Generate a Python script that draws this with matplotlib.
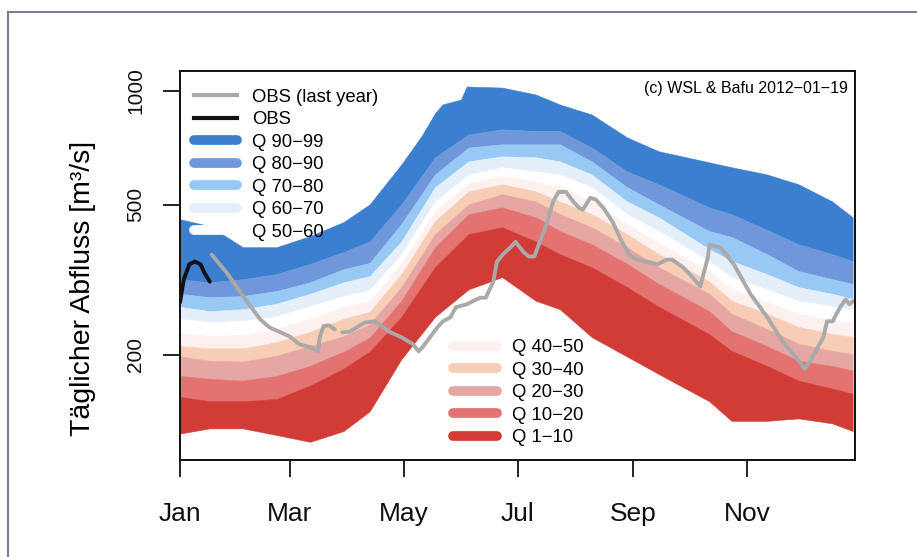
import numpy as np
import matplotlib.pyplot as plt
from matplotlib.lines import Line2D
from matplotlib.ticker import NullLocator

plt.rcParams['font.family'] = ['Liberation Sans', 'DejaVu Sans']

# day of year for the quantile curves
days = [1, 17, 35, 53, 71, 89, 103, 120, 138, 156, 174, 192, 205, 222, 241,
        258, 285, 297, 316, 333, 351, 362]
# upper edge (Q99) read with a few extra points around the June step
top_days = [1, 17, 35, 53, 71, 89, 103, 120, 131, 138, 142, 152, 155, 174, 192,
            205, 222, 241, 258, 285, 297, 316, 333, 351, 362]
q99 = [456, 437, 384, 384, 411, 448, 499, 637, 760, 870, 918, 947, 1025, 1018,
       976, 918, 864, 751, 690, 645, 626, 599, 564, 508, 461]
q90 = [316, 310, 316, 326, 347, 373, 398, 499, 665, 765, 789, 781, 781, 706,
       610, 564, 490, 470, 427, 391, 368, 353]
q80 = [289, 283, 285, 294, 310, 336, 349, 443, 599, 706, 720, 720, 720, 649,
       554, 499, 424, 409, 368, 332, 316, 307]
q70 = [267, 260, 263, 272, 289, 310, 322, 398, 554, 649, 669, 665, 649, 599,
       508, 461, 380, 353, 326, 301, 289, 280]
q60 = [248, 243, 245, 252, 268, 285, 296, 368, 508, 599, 626, 610, 599, 554,
       470, 424, 353, 320, 297, 277, 268, 263]
q50 = [228, 223, 225, 233, 248, 267, 277, 347, 478, 567, 592, 574, 554, 508,
       442, 394, 332, 297, 275, 256, 246, 242]
q40 = [210, 207, 207, 215, 229, 248, 259, 326, 450, 540, 564, 540, 508, 470,
       416, 368, 312, 277, 256, 236, 226, 222]
q30 = [197, 192, 191, 198, 210, 223, 240, 301, 416, 499, 531, 508, 470, 434,
       384, 340, 289, 256, 233, 213, 204, 200]
q20 = [175, 172, 170, 175, 186, 203, 221, 277, 384, 470, 490, 461, 424, 391,
       347, 307, 260, 230, 210, 192, 186, 181]
q10 = [154, 150, 150, 152, 165, 183, 203, 251, 340, 416, 434, 398, 368, 340,
       301, 267, 226, 204, 186, 170, 162, 157]
q01 = [123, 127, 127, 122, 117, 125, 141, 194, 251, 297, 320, 277, 263, 222,
       197, 177, 150, 133, 133, 135, 131, 125]

# observations of last year (gap = missing data)
obs_last_days = [18, 26, 35, 44, 49, 55, 60, 65, 71, 75, 76, 78, 81, 84, 86, 88,
                 92, 100, 105, 108, 113, 120, 126, 129, 131, 135, 139, 142, 146,
                 149, 155, 158, 162, 165, 169, 171, 174, 178, 181, 185, 188, 191,
                 194, 198, 201, 204, 208, 212, 215, 217, 221, 224, 228, 233, 238,
                 242, 246, 251, 257, 262, 265, 271, 276, 280, 281, 284, 285, 291,
                 298, 307, 316, 324, 333, 336, 339, 343, 346, 348, 351, 355, 358,
                 360, 362]
obs_last = [368, 330, 285, 248, 236, 229, 223, 213, 209, 204, 223, 238, 239, 233,
            np.nan, 229, 230, 243, 245, 240, 230, 222, 213, 204, 209, 222, 236,
            245, 251, 267, 272, 277, 283, 283, 312, 353, 368, 384, 398, 375, 364,
            364, 398, 450, 508, 540, 540, 508, 490, 484, 521, 515, 490, 450, 398,
            368, 357, 353, 347, 357, 357, 340, 320, 303, 316, 361, 391, 384, 347,
            289, 251, 217, 192, 183, 192, 209, 222, 245, 245, 267, 280, 272, 277]
obs_days = [1, 3, 6, 9, 12, 14, 17]
obs = [275, 316, 347, 353, 347, 330, 312]

month_days = [1, 60, 121, 182, 244, 305]
month_labels = ['Jan', 'Mar', 'May', 'Jul', 'Sep', 'Nov']

band_labels = ['Q 90−99', 'Q 80−90', 'Q 70−80', 'Q 60−70', 'Q 50−60',
               'Q 40−50', 'Q 30−40', 'Q 20−30', 'Q 10−20', 'Q 1−10']
band_colors = ['#3b7fd0', '#6f97d9', '#98c8f4', '#e4eff9', '#ffffff',
               '#fcf1ee', '#f8cdb6', '#e6a6a4', '#e37271', '#d13c37']

fig = plt.figure(figsize=(9.17, 5.57), dpi=100)
ax = fig.add_axes([0.1963, 0.1741, 0.7361, 0.6984])

def band(x_up, y_up, x_lo, y_lo, col):
    xs = np.r_[x_up, x_lo[::-1]]
    ys = np.r_[y_up, y_lo[::-1]]
    ax.fill(xs, ys, facecolor=col, edgecolor=col, lw=0.4)

d = np.array(days)
curves = [q90, q80, q70, q60, q50, q40, q30, q20, q10, q01]
band(np.array(top_days), np.array(q99), d, np.array(q90), band_colors[0])
for i in range(1, 10):
    band(d, np.array(curves[i - 1]), d, np.array(curves[i]), band_colors[i])

ax.plot(obs_last_days, obs_last, color='#a9a9a9', lw=2.8, solid_capstyle='round')
ax.plot(obs_days, obs, color='#111111', lw=2.8, solid_capstyle='round')

ax.set_yscale('log')
ax.set_ylim(105, 1130)
ax.set_xlim(1, 363)
ax.set_yticks([200, 500, 1000])
ax.set_yticklabels(['200', '500', '1000'], rotation=90, va='center', fontsize=15)
ax.yaxis.set_minor_locator(NullLocator())
ax.set_xticks(month_days)
ax.set_xticklabels(month_labels, fontsize=19)
ax.tick_params(axis='both', length=12, width=1.3, direction='out', colors='#111111')
ax.tick_params(axis='y', pad=13)
ax.tick_params(axis='x', pad=18)
for s in ax.spines.values():
    s.set_linewidth(1.4)
    s.set_color('#111111')

ax.set_ylabel('Täglicher Abfluss [m³/s]', fontsize=20.5)
ax.yaxis.set_label_coords(-0.125, 0.44)

ax.text(0.989, 0.956, '(c) WSL & Bafu 2012−01−19', transform=ax.transAxes,
        ha='right', va='center', fontsize=11.5)

h1 = [Line2D([], [], color='#a9a9a9', lw=3),
      Line2D([], [], color='#111111', lw=3)]
h1 += [Line2D([], [], color=c, lw=7, solid_capstyle='round') for c in band_colors[:5]]
leg1 = ax.legend(h1, ['OBS (last year)', 'OBS'] + band_labels[:5],
                 loc='upper left', bbox_to_anchor=(0.02, 0.955), frameon=False,
                 fontsize=13.3, handlelength=2.35, handletextpad=0.8,
                 labelspacing=0.3, borderpad=0, borderaxespad=0)
ax.add_artist(leg1)
h2 = [Line2D([], [], color=c, lw=7, solid_capstyle='round') for c in band_colors[5:]]
ax.legend(h2, band_labels[5:], loc='lower left', bbox_to_anchor=(0.405, 0.035),
          frameon=False, fontsize=13.3, handlelength=2.35, handletextpad=0.8,
          labelspacing=0.3, borderpad=0, borderaxespad=0)

frame_col = '#7c7c9c'
fig.add_artist(Line2D([0.0087, 1.0], [0.9785, 0.9785], color=frame_col, lw=1.5))
fig.add_artist(Line2D([0.0087, 0.0087], [0.0, 0.9785], color=frame_col, lw=1.5))

fig.savefig('out.png', dpi=100)
